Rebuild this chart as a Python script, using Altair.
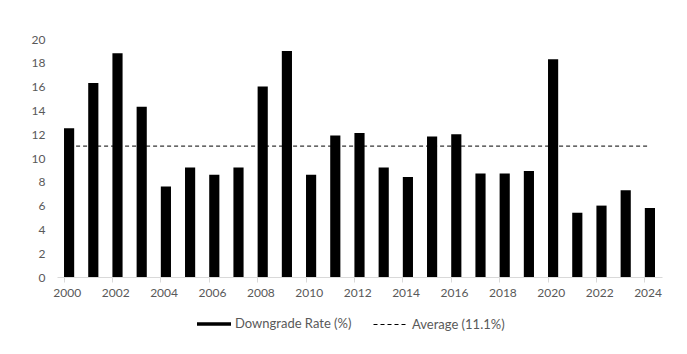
import altair as alt
import pandas as pd

years = [str(y) for y in range(2000, 2025)]
rates = [12.5, 16.3, 18.8, 14.3, 7.6, 9.2, 8.6, 9.2, 16.0, 19.0, 8.6, 11.9,
         12.1, 9.2, 8.4, 11.8, 12.0, 8.7, 8.7, 8.9, 18.3, 5.4, 6.0, 7.3, 5.8]
avg_value = 11.0
bar_label = "Downgrade Rate (%)"
avg_label = "Average (11.1%)"
even_years = [y for y in years if int(y) % 2 == 0]
y_ticks = list(range(0, 21, 2))

df_bar = pd.DataFrame({"year": years, "value": rates, "series": bar_label})
df_avg = pd.DataFrame({"year": years, "value": [avg_value] * len(years), "series": avg_label})

x_enc = alt.X(
    "year:N",
    sort=years,
    title=None,
    scale=alt.Scale(paddingInner=0.58, paddingOuter=0.29),
    axis=alt.Axis(
        values=even_years, bandPosition=0, labelOffset=12.1, labelAngle=0, tickSize=5,
        tickColor="#d9d9d9", domainColor="#d9d9d9", labelPadding=10,
        labelOverlap=False,
    ),
)
y_enc = alt.Y(
    "value:Q",
    title=None,
    scale=alt.Scale(domain=[0, 20], nice=False),
    axis=alt.Axis(values=y_ticks, ticks=False, domain=False, grid=False,
                  labelPadding=12, labelOverlap=False),
)

legend_common = dict(
    title=None, orient="none", direction="horizontal",
    symbolSize=1156, labelFont="Lato", labelFontSize=13, labelColor="#595959",
    labelOffset=4, padding=0,
)

bars = alt.Chart(df_bar).mark_bar().encode(
    x=x_enc, y=y_enc,
    color=alt.Color(
        "series:N",
        scale=alt.Scale(domain=[bar_label], range=["#000000"]),
        legend=alt.Legend(
            legendX=140, legendY=268,
            symbolType="M-1,-0.103H1V0.103H-1Z", symbolStrokeWidth=0,
            symbolOpacity=1, **legend_common,
        ),
    ),
)
line = alt.Chart(df_avg).mark_line(color="#000000", strokeWidth=1).encode(
    x=alt.X("year:N", sort=years),
    y=y_enc,
    strokeDash=alt.StrokeDash(
        "series:N",
        scale=alt.Scale(domain=[avg_label], range=[[4, 3]]),
        legend=alt.Legend(
            legendX=316, legendY=268,
            symbolType="stroke", symbolStrokeColor="#000000", symbolStrokeWidth=1,
            symbolOpacity=1, **legend_common,
        ),
    ),
)

chart = alt.layer(line, bars).properties(
    width=605, height=238,
    autosize=alt.AutoSizeParams(type="none"),
    padding={"left": 57, "top": 39, "right": 25, "bottom": 77},
).configure_axis(
    labelFont="Lato", labelFontSize=12, labelColor="#595959",
).configure_view(strokeOpacity=0)

chart.save("out.html", embed_options={"renderer": "svg", "actions": False})
